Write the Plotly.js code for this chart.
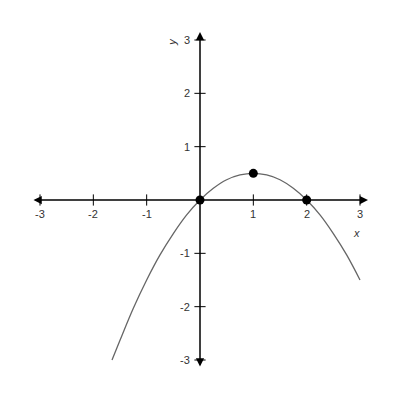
<!DOCTYPE html>
<html>
<head>
<meta charset="utf-8">
<script src="https://cdn.plot.ly/plotly-3.0.1.min.js"></script>
<style>
  html, body { margin: 0; padding: 0; background: #fff; }
  #plot { width: 400px; height: 400px; }
</style>
</head>
<body>
<div id="plot"></div>
<script>
// curve points
var curveX = [-1.65, -1.5, -1.25, -1, -0.75, -0.5, -0.25, 0, 0.25, 0.5, 0.75, 1, 1.25, 1.5, 1.75, 2, 2.25, 2.5, 2.75, 3];
var curveY = [-3.0, -2.63, -2.03, -1.5, -1.03, -0.63, -0.28, 0, 0.22, 0.38, 0.47, 0.5, 0.47, 0.38, 0.22, 0, -0.28, -0.63, -1.03, -1.5];

// highlighted points
var dotX = [0, 1, 2];
var dotY = [0, 0.5, 0];

// tick values and labels
var xTicks = [-3, -2, -1, 1, 2, 3];
var xTickText = ['-3', '-2', '-1', '1', '2', '3'];
var yTicks = [3, 2, 1, -1, -2, -3];
var yTickText = ['3', '2', '1', '-1', '-2', '-3'];

var axisEnd = 3.15;
var labelFont = {family: 'Liberation Sans, Arial, sans-serif', size: 11, color: '#333'};

var data = [
  {
    x: curveX, y: curveY,
    mode: 'lines',
    line: {color: '#666', width: 1.3, shape: 'spline'},
    hoverinfo: 'skip'
  },
  {
    x: xTicks, y: xTicks.map(function () { return 0; }),
    mode: 'markers',
    marker: {symbol: 'line-ns', size: 8, line: {color: '#000', width: 1}},
    hoverinfo: 'skip'
  },
  {
    x: yTicks.map(function () { return 0; }), y: yTicks,
    mode: 'markers',
    marker: {symbol: 'line-ew', size: 8, line: {color: '#000', width: 1}},
    hoverinfo: 'skip'
  },
  {
    x: dotX, y: dotY,
    mode: 'markers',
    marker: {color: '#000', size: 9},
    hoverinfo: 'skip'
  }
];

var annotations = [];

// axes with arrowheads at both ends
annotations.push({
  x: axisEnd, y: 0, ax: -axisEnd, ay: 0,
  xref: 'x', yref: 'y', axref: 'x', ayref: 'y',
  text: '', showarrow: true, arrowside: 'end+start',
  arrowhead: 2, arrowsize: 1.1, arrowwidth: 1.5, arrowcolor: '#000',
  standoff: 0, startstandoff: 0
});
annotations.push({
  x: 0, y: axisEnd, ax: 0, ay: -axisEnd,
  xref: 'x', yref: 'y', axref: 'x', ayref: 'y',
  text: '', showarrow: true, arrowside: 'end+start',
  arrowhead: 2, arrowsize: 1.1, arrowwidth: 1.5, arrowcolor: '#000',
  standoff: 0, startstandoff: 0
});

xTicks.forEach(function (v, i) {
  annotations.push({
    x: v, y: 0, xref: 'x', yref: 'y',
    text: xTickText[i], showarrow: false,
    xanchor: 'center', yanchor: 'middle', yshift: -14,
    font: labelFont
  });
});
yTicks.forEach(function (v, i) {
  annotations.push({
    x: 0, y: v, xref: 'x', yref: 'y',
    text: yTickText[i], showarrow: false,
    xanchor: 'right', yanchor: 'middle', xshift: -8,
    font: labelFont
  });
});

// axis names
annotations.push({
  x: 2.93, y: -0.62, xref: 'x', yref: 'y',
  text: '<i>x</i>', showarrow: false,
  font: labelFont
});
annotations.push({
  x: -0.53, y: 2.96, xref: 'x', yref: 'y',
  text: '<i>y</i>', showarrow: false, textangle: -90,
  font: labelFont
});

var layout = {
  width: 400, height: 400,
  margin: {l: 24, r: 24, t: 24, b: 24},
  paper_bgcolor: '#fff', plot_bgcolor: '#fff',
  showlegend: false,
  xaxis: {range: [-3.3, 3.3], visible: false, fixedrange: true},
  yaxis: {range: [-3.3, 3.3], visible: false, fixedrange: true},
  annotations: annotations
};

Plotly.newPlot('plot', data, layout, {staticPlot: true});
</script>
</body>
</html>
